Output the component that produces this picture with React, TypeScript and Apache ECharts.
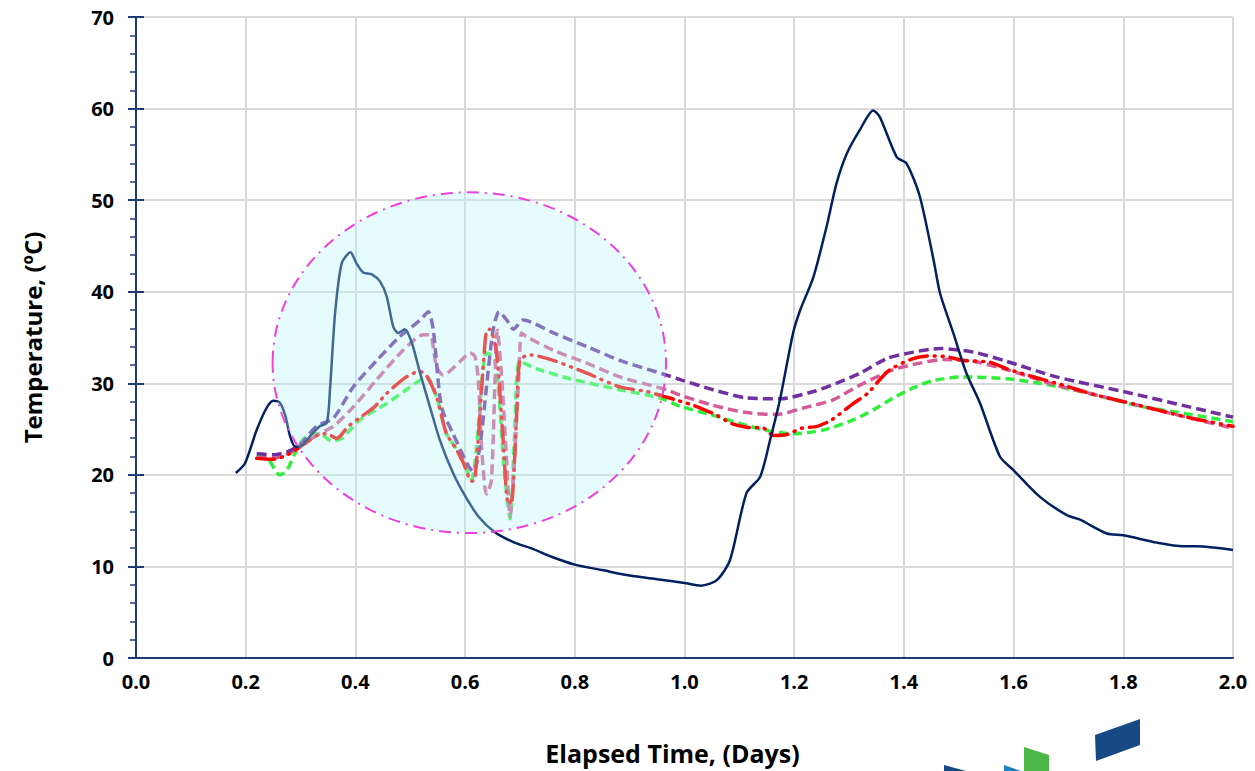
import React, { useEffect, useRef } from "react";
import * as echarts from "echarts";

// ---- data (x = elapsed days, y = temperature °C) ----
const xTicks = [0, 0.2, 0.4, 0.6, 0.8, 1.0, 1.2, 1.4, 1.6, 1.8, 2.0];
const yTicks = [0, 10, 20, 30, 40, 50, 60, 70];

const navyTemp: number[][] = [
  [0.182, 20.2], [0.199, 21.3], [0.22, 24.9], [0.238, 27.3], [0.25, 28.1], [0.262, 27.9], [0.272, 26.5],
  [0.281, 24.2], [0.29, 23.1], [0.299, 23.1], [0.317, 24.2], [0.335, 25.3], [0.348, 25.7], [0.354, 29.6],
  [0.363, 37.7], [0.375, 43.1], [0.391, 44.3], [0.402, 43.1], [0.414, 42.1], [0.43, 41.9], [0.445, 41.1],
  [0.457, 39.5], [0.469, 36.2], [0.478, 35.5], [0.49, 35.9], [0.503, 34.4], [0.518, 31.1], [0.536, 27.4],
  [0.554, 23.8], [0.578, 20.2], [0.6, 17.7], [0.625, 15.4], [0.655, 13.7], [0.69, 12.6], [0.72, 12.0],
  [0.76, 11.0], [0.8, 10.2], [0.85, 9.6], [0.9, 9.0], [0.95, 8.6], [1.0, 8.2], [1.03, 7.9], [1.059, 8.5],
  [1.083, 10.7], [1.113, 18.0], [1.138, 19.8], [1.156, 23.8], [1.174, 28.2], [1.198, 35.5], [1.211, 38.0],
  [1.235, 41.6], [1.259, 47.1], [1.277, 51.8], [1.296, 55.1], [1.32, 57.7], [1.344, 59.8], [1.356, 59.1],
  [1.387, 54.7], [1.405, 54.0], [1.429, 50.4], [1.454, 43.5], [1.466, 39.8], [1.49, 35.5], [1.514, 31.1],
  [1.539, 27.8], [1.575, 22.0], [1.6, 20.5], [1.648, 17.6], [1.697, 15.6], [1.721, 15.1], [1.77, 13.6],
  [1.8, 13.4], [1.861, 12.6], [1.909, 12.2], [1.934, 12.2], [2.0, 11.8],
];

const purpleTemp: number[][] = [
  [0.22, 22.3], [0.25, 22.2], [0.275, 22.5], [0.299, 23.3], [0.329, 25.3], [0.36, 26.2], [0.396, 29.6],
  [0.439, 32.5], [0.481, 35.1], [0.518, 36.9], [0.533, 37.8], [0.542, 35.8], [0.557, 27.4], [0.578, 24.5],
  [0.603, 21.3], [0.615, 20.3], [0.627, 23.1], [0.639, 29.6], [0.651, 35.8], [0.662, 37.8], [0.676, 36.9],
  [0.688, 35.9], [0.706, 36.9], [0.761, 35.5], [0.822, 34.0], [0.882, 32.5], [0.967, 30.9], [0.992, 30.4],
  [1.052, 29.3], [1.113, 28.4], [1.174, 28.3], [1.235, 29.1], [1.277, 30.0], [1.32, 31.1], [1.369, 32.7],
  [1.417, 33.4], [1.466, 33.8], [1.527, 33.4], [1.587, 32.4], [1.678, 30.7], [1.8, 29.1], [1.922, 27.4],
  [2.0, 26.3],
];

const pinkTemp: number[][] = [
  [0.22, 21.9], [0.25, 21.8], [0.28, 22.4], [0.305, 23.4], [0.335, 24.5], [0.36, 25.3], [0.396, 27.4],
  [0.439, 30.4], [0.487, 33.6], [0.524, 35.3], [0.536, 35.3], [0.548, 31.8], [0.56, 30.9], [0.591, 32.4],
  [0.609, 33.3], [0.618, 32.9], [0.624, 30.4], [0.63, 23.1], [0.639, 17.9], [0.648, 19.4], [0.659, 35.8],
  [0.667, 30.4], [0.676, 21.3], [0.682, 15.5], [0.688, 19.4], [0.697, 29.6], [0.703, 35.5], [0.712, 35.1],
  [0.761, 33.6], [0.822, 32.2], [0.882, 30.7], [0.967, 29.3], [0.992, 28.7], [1.052, 27.6], [1.113, 26.8],
  [1.168, 26.6], [1.223, 27.4], [1.271, 28.2], [1.32, 29.8], [1.381, 31.5], [1.429, 32.2], [1.472, 32.6],
  [1.527, 32.4], [1.587, 31.5], [1.678, 29.8], [1.8, 28.0], [1.922, 26.2], [2.0, 25.1],
];

const redTemp: number[][] = [
  [0.22, 21.8], [0.25, 21.7], [0.28, 22.3], [0.305, 23.3], [0.33, 24.3], [0.346, 24.5], [0.366, 24.0],
  [0.387, 25.3], [0.414, 26.5], [0.436, 27.5], [0.457, 28.9], [0.493, 30.7], [0.518, 31.3], [0.53, 30.8],
  [0.548, 28.5], [0.566, 24.5], [0.582, 23.0], [0.597, 21.3], [0.612, 19.3], [0.618, 19.5], [0.633, 31.8],
  [0.639, 35.8], [0.645, 35.9], [0.657, 33.5], [0.668, 25.0], [0.679, 16.8], [0.686, 17.4], [0.694, 26.7],
  [0.7, 32.5], [0.718, 33.1], [0.761, 32.5], [0.822, 31.1], [0.882, 29.6], [0.931, 29.1], [0.983, 28.2],
  [1.016, 27.6], [1.059, 26.5], [1.086, 25.6], [1.113, 25.2], [1.144, 25.1], [1.162, 24.3], [1.186, 24.4],
  [1.214, 25.1], [1.242, 25.3], [1.268, 26.0], [1.308, 27.8], [1.334, 28.9], [1.353, 30.2], [1.375, 31.5],
  [1.417, 32.7], [1.448, 33.0], [1.478, 32.9], [1.508, 32.5], [1.557, 32.3], [1.587, 31.6], [1.642, 30.6],
  [1.69, 29.8], [1.745, 28.8], [1.8, 28.0], [1.855, 27.2], [1.916, 26.3], [2.0, 25.3],
];

const greenTemp: number[][] = [
  [0.22, 22.0], [0.24, 21.8], [0.262, 20.0], [0.275, 20.5], [0.296, 23.1], [0.317, 24.5], [0.335, 24.5],
  [0.357, 23.7], [0.375, 24.0], [0.408, 26.0], [0.457, 27.8], [0.493, 29.3], [0.53, 30.7], [0.548, 28.5],
  [0.566, 24.5], [0.582, 23.0], [0.597, 21.4], [0.612, 19.5], [0.62, 22.5], [0.632, 31.0], [0.639, 33.3],
  [0.652, 32.8], [0.66, 30.0], [0.672, 20.0], [0.682, 15.2], [0.69, 24.0], [0.7, 32.4], [0.73, 31.6],
  [0.791, 30.5], [0.882, 29.3], [0.955, 28.4], [0.992, 27.5], [1.052, 26.5], [1.113, 25.4], [1.162, 24.7],
  [1.198, 24.5], [1.253, 24.9], [1.308, 26.0], [1.344, 27.1], [1.381, 28.4], [1.417, 29.5], [1.454, 30.3],
  [1.508, 30.7], [1.587, 30.5], [1.648, 30.0], [1.709, 29.3], [1.77, 28.4], [1.83, 27.5], [1.891, 26.9],
  [1.952, 26.3], [2.0, 25.8],
];

// highlighted region: [centre x, centre y, radius x, radius y] in data units
const highlightEllipse = [[0.6077, 32.25, 0.3586, 18.6]];

const AXIS_COLOR = "#1f3b73";
const FONT = "'Open Sans', 'Noto Sans', sans-serif";

export default function App() {
  const ref = useRef<HTMLDivElement>(null);

  useEffect(() => {
    if (!ref.current) return;
    const chart = echarts.init(ref.current, undefined, { renderer: "svg" });

    const lineSeries = (name: string, data: number[][], color: string, width: number, type: any, cap = "butt") => ({
      name,
      type: "line",
      data,
      showSymbol: false,
      smooth: 0.25,
      yAxisIndex: 0,
      lineStyle: { color, width, type, cap },
      z: 3,
    });

    chart.setOption({
      animation: false,
      backgroundColor: "#ffffff",
      grid: { left: 136, right: 22, top: 17, bottom: 113, containLabel: false },
      xAxis: {
        type: "value",
        min: xTicks[0],
        max: xTicks[xTicks.length - 1],
        interval: 0.2,
        name: "Elapsed Time, (Days)",
        nameLocation: "middle",
        nameGap: 82,
        nameTextStyle: {
          fontFamily: FONT,
          fontWeight: "bold",
          fontSize: 25,
          color: "#000",
          padding: [0, 24, 0, 0],
        },
        axisLine: { show: true, lineStyle: { color: AXIS_COLOR, width: 2 } },
        axisTick: { show: false },
        axisLabel: {
          margin: 13,
          fontFamily: FONT,
          fontWeight: "bold",
          fontSize: 20,
          color: "#000",
          formatter: (v: number) => v.toFixed(1),
        },
        splitLine: { show: true, lineStyle: { color: "#d9d9d9", width: 2 } },
      },
      yAxis: [
        {
          type: "value",
          min: yTicks[0],
          max: yTicks[yTicks.length - 1],
          interval: 10,
          name: "Temperature, (ºC)",
          nameLocation: "middle",
          nameGap: 92,
          nameTextStyle: { fontFamily: FONT, fontWeight: "bold", fontSize: 24, color: "#000" },
          axisLine: { show: true, lineStyle: { color: AXIS_COLOR, width: 2 } },
          axisTick: { show: true, length: 8, lineStyle: { color: AXIS_COLOR, width: 2 } },
          minorTick: { show: true, splitNumber: 5, length: 6, lineStyle: { color: AXIS_COLOR, width: 1.5 } },
          axisLabel: { margin: 22, fontFamily: FONT, fontWeight: "bold", fontSize: 20, color: "#000" },
          splitLine: { show: true, lineStyle: { color: "#d9d9d9", width: 2 } },
        },
        {
          type: "value",
          min: yTicks[0],
          max: yTicks[yTicks.length - 1],
          interval: 10,
          position: "left",
          axisLine: { show: false },
          axisTick: { show: true, inside: true, length: 8, lineStyle: { color: AXIS_COLOR, width: 2 } },
          axisLabel: { show: false },
          splitLine: { show: false },
        },
      ],
      series: [
        lineSeries("Green", greenTemp, "#2ef03a", 3.5, [9, 5]),
        lineSeries("Pink", pinkTemp, "#d65a96", 3.5, [10, 5]),
        lineSeries("Purple", purpleTemp, "#7030a0", 3.5, [10, 5]),
        lineSeries("Red", redTemp, "#ff0000", 3.5, [18, 7, 1, 7, 1, 7], "round"),
        { ...lineSeries("Navy", navyTemp, "#002060", 2.5, "solid"), z: 4 },
        {
          type: "custom",
          name: "highlight",
          data: highlightEllipse,
          encode: { x: 0, y: 1 },
          silent: true,
          clip: false,
          z: 10,
          renderItem: (params: any, api: any) => {
            const c = api.coord([api.value(0), api.value(1)]);
            const s = api.size([api.value(2), api.value(3)]);
            return {
              type: "ellipse",
              shape: { cx: c[0], cy: c[1], rx: s[0], ry: s[1] },
              style: {
                fill: "rgba(181,246,246,0.34)",
                stroke: "#ee40e0",
                lineWidth: 2,
                lineDash: [12, 6, 2, 6],
              },
            };
          },
        },
      ],
      graphic: [
        { type: "polygon", shape: { points: [[1095, 735], [1140, 719], [1140, 745], [1096, 761]] }, style: { fill: "#174a85" } },
        { type: "polygon", shape: { points: [[1024, 747], [1049, 755], [1049, 771], [1024, 771]] }, style: { fill: "#4db848" } },
        { type: "polygon", shape: { points: [[1004, 765], [1021, 771], [1004, 771]] }, style: { fill: "#1a80c4" } },
        { type: "polygon", shape: { points: [[944, 765], [966, 771], [944, 771]] }, style: { fill: "#174a85" } },
      ],
    });

    return () => chart.dispose();
  }, []);

  return (
    <div
      ref={ref}
      style={{ position: "absolute", left: 0, top: 0, width: 1255, height: 771, background: "#fff" }}
    />
  );
}
